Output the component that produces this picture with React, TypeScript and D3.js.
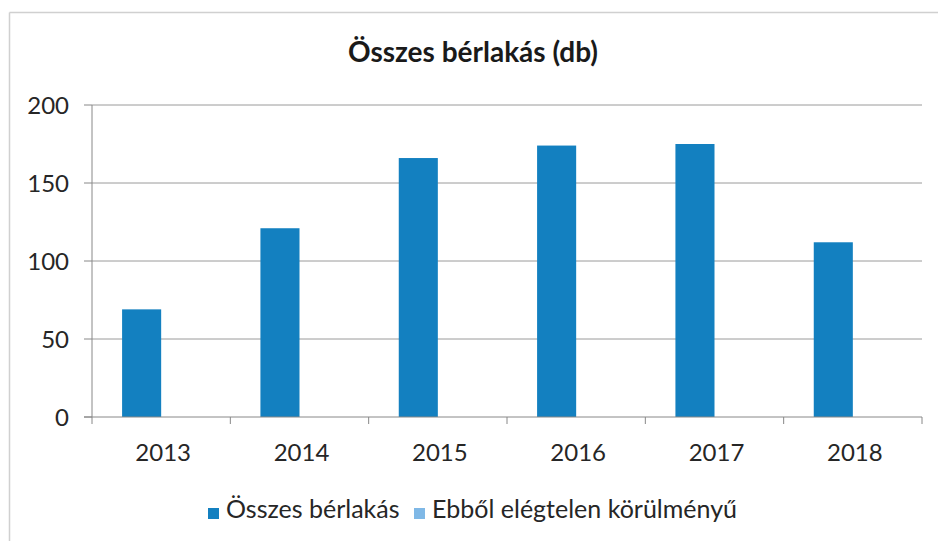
import React from "react";
import * as d3 from "d3";

const years = ["2013", "2014", "2015", "2016", "2017", "2018"];
const osszes = [69, 121, 166, 174, 175, 112];
const elegtelen = [0, 0, 0, 0, 0, 0];
const yTicks = [0, 50, 100, 150, 200];
const seriesNames = ["Összes bérlakás", "Ebből elégtelen körülményű"];
const seriesColors = ["#1380c0", "#7fb8e6"];
const title = "Összes bérlakás (db)";

const W = 938;
const H = 541;
const FONT = "Lato, 'Open Sans', sans-serif";

export default function App() {
  const left = 92;
  const right = 922;
  const top = 105;
  const bottom = 417;

  const x = d3.scaleBand<string>().domain(years).range([left, right]).paddingInner(0).paddingOuter(0);
  const inner = d3
    .scaleBand<number>()
    .domain([0, 1])
    .range([0, x.bandwidth()])
    .paddingInner(0)
    .paddingOuter(0.77);
  const y = d3.scaleLinear().domain([0, 200]).range([bottom, top]);

  const data = [osszes, elegtelen];

  return (
    <svg
      width={W}
      height={H}
      style={{ position: "absolute", left: 0, top: 0, background: "#fff" }}
      fontFamily={FONT}
    >
      <rect x={0} y={0} width={W} height={H} fill="#fff" />
      {/* outer frame */}
      <line x1={9.5} x2={9.5} y1={12.5} y2={H} stroke="#d0d0d0" strokeWidth={1.5} />
      <line x1={9.5} x2={W} y1={12.5} y2={12.5} stroke="#d0d0d0" strokeWidth={1.5} />

      <text x={473} y={62} textAnchor="middle" fontSize={28} fontWeight="bold" fill="#1a1a1a">
        {title}
      </text>

      {/* gridlines */}
      {yTicks.map((t) => (
        <g key={t}>
          {t > 0 && (
            <line x1={left} x2={right} y1={y(t)} y2={y(t)} stroke="#9a9a9a" strokeWidth={1} />
          )}
          <line x1={left - 8} x2={left} y1={y(t)} y2={y(t)} stroke="#888" strokeWidth={1} />
          <text x={69} y={y(t)} dy="0.36em" textAnchor="end" fontSize={24} fill="#262626">
            {t}
          </text>
        </g>
      ))}

      {/* bars */}
      {data.map((series, si) =>
        series.map((v, i) => (
          <rect
            key={`${si}-${i}`}
            x={(x(years[i]) as number) + (inner(si) as number)}
            y={y(v)}
            width={inner.bandwidth()}
            height={bottom - y(v)}
            fill={seriesColors[si]}
          />
        ))
      )}

      {/* axes */}
      <line x1={left} x2={left} y1={top} y2={bottom} stroke="#888" strokeWidth={1} />
      <line x1={left - 8} x2={right} y1={bottom} y2={bottom} stroke="#888" strokeWidth={1} />
      {years.map((yr, i) => (
        <line
          key={`t${i}`}
          x1={x(yr) as number}
          x2={x(yr) as number}
          y1={bottom}
          y2={bottom + 7}
          stroke="#888"
        />
      ))}
      <line x1={right} x2={right} y1={bottom} y2={bottom + 7} stroke="#888" />
      {years.map((yr) => (
        <text
          key={yr}
          x={(x(yr) as number) + x.bandwidth() / 2 + 2}
          y={461}
          textAnchor="middle"
          fontSize={24}
          fill="#262626"
        >
          {yr}
        </text>
      ))}

      {/* legend */}
      <rect x={208} y={508} width={11} height={11} fill={seriesColors[0]} />
      <text x={226} y={518} fontSize={25} fill="#262626">
        {seriesNames[0]}
      </text>
      <rect x={414} y={508} width={11} height={11} fill={seriesColors[1]} />
      <text x={432} y={518} fontSize={25} fill="#262626">
        {seriesNames[1]}
      </text>
    </svg>
  );
}
